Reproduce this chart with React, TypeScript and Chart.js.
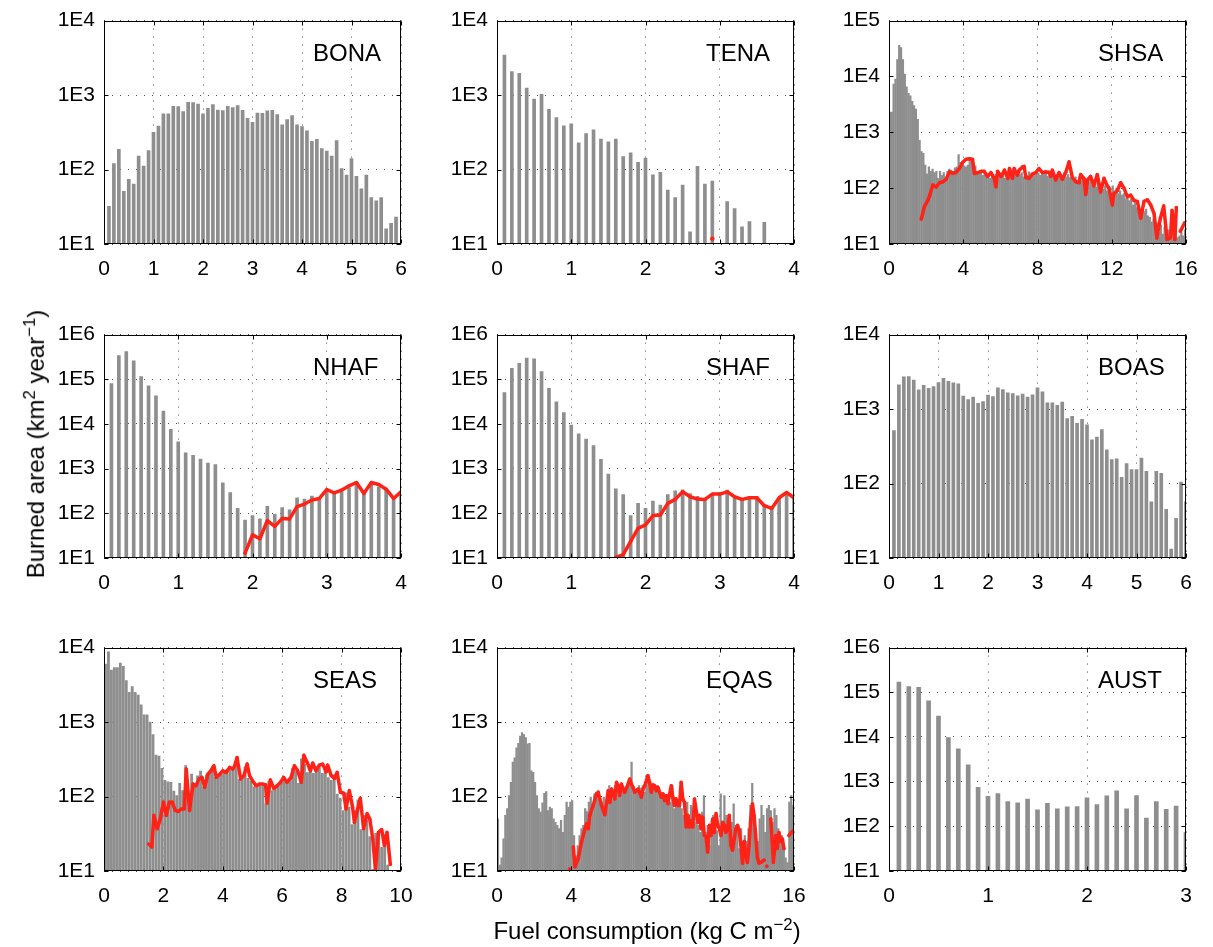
import React, { useEffect, useRef } from 'react';
import { Chart, registerables } from 'chart.js';

Chart.register(...registerables);

// ---------------- data ----------------
// Gray histogram values (km2/yr), bins of 0.1 kg C m-2
const BONA_AREA = [32, 120, 187, 51, 74, 64, 152, 111, 179, 315, 382, 558, 558, 706, 700, 600, 798, 790, 759, 558, 664, 743, 631, 618, 706, 678, 721, 625, 488, 432, 575, 568, 612, 625, 547, 398, 469, 530, 398, 378, 331, 239, 254, 191, 177, 152, 244, 103, 84, 140, 81, 55, 84, 42, 38, 42, 16, 19, 23];
const TENA_AREA = [3450, 2070, 1965, 1240, 885, 1020, 644, 499, 386, 411, 229, 305, 341, 256, 236, 256, 149, 167, 125, 143, 85, 92, 53, 42, 62, 14.6, 110, 64, 70, null, 37, 30, 17, 20, null, 19.5];
const SHSA_AREA = [
  2300, 2300, 7300, 9000, 20000, 36000, 33000, 20000, 11000, 6500,
  5000, 4500, 3600, 3000, 2600, 1700, 720, 450, 420, 260,
  180, 240, 200, 220, 190, 200, 150, 200, 170, 190,
  160, 200, 220, 210, 200, 230, 240, 400, 290, 260,
  250, 240, 260, 320, 330, 280, 250, 200, 180, 200,
  170, 190, 160, 180, 150, 170, 140, 175, 150, 170,
  160, 180, 150, 175, 165, 190, 155, 180, 170, 200,
  175, 190, 160, 185, 170, 195, 165, 180, 175, 190,
  185, 170, 195, 175, 180, 165, 190, 170, 185, 160,
  175, 165, 180, 170, 190, 160, 175, 155, 170, 150,
  160, 140, 165, 135, 150, 120, 145, 130, 140, 115,
  130, 105, 125, 100, 115, 95, 110, 90, 100, 80,
  110, 90, 100, 80, 90, 75, 80, 65, 70, 60,
  65, 50, 55, 45, 50, 40, 45, 38, 42, 32,
  30, 25, 28, 20, 24, 16, 22, 15, 20, 14,
  18, 13, 16, 12, 15, 13, 14, 16, 14, 18,
];
const NHAF_AREA = [80100, 341000, 419000, 260000, 114600, 71100, 42600, 19450, 7600, 3980, 2270, 1980, 1640, 1340, 1230, 480, 293, 129, 71, 89, 75, 143, 95, 134, 119, 223, 208, 243, 227, 341, 278, 303, 372, 506, 303, 464, 391, 330, 227, 303];
const SHAF_AREA = [50500, 175500, 227000, 298000, 288000, 148000, 63100, 31300, 17900, 9500, 6000, 4560, 3300, 1610, 760, 353, 264, 89, 167, 129, 188, 153, 264, 319, 336, 278, 239, 215, 278, 288, 330, 223, 208, 235, 235, 153, 129, 215, 288, 235];
const BOAS_AREA = [514, 2110, 2700, 2730, 2460, 1810, 2090, 1905, 2005, 2270, 2590, 2360, 2245, 2180, 1490, 1345, 1445, 1190, 1265, 1537, 1475, 1925, 1830, 1650, 1618, 1505, 1585, 1445, 1553, 1925, 1702, 1214, 1214, 1119, 1240, 743, 798, 644, 728, 612, 386, 419, 530, 284, 209, 215, 121, 185, 154, 154, 220, 146, 57, 146, 137, 45, 13.2, 34, 105, 57];
const SEAS_AREA = [
  6000, 8800, 5000, 5400, 5400, 6200, 5600, 3600, 2500, 3000,
  2500, 2300, 1700, 1250, 1250, 1000, 680, 360, 350, 240,
  165, 158, 155, 118, 103, 150, 120, 260, 90, 200,
  135, 190, 220, 135, 195, 205, 250, 180, 185, 200,
  205, 230, 240, 225, 300, 170, 185, 250, 175, 160,
  135, 140, 140, 138, 80, 160, 120, 130, 140, 150,
  170, 155, 175, 240, 220, 150, 320, 270, 210, 260,
  205, 245, 250, 205, 245, 180, 165, 195, 108, 95,
  65, 112, 72, 42, 65, 90, 36, 56, 48, 29,
  10.5, 32, 34, 21, 31, 12, null, null, null, null,
];
const EQAS_AREA = [
  50, 12, 15, 27, 56, 69, 103, 155, 290, 330,
  450, 520, 650, 720, 680, 620, 510, 520, 222, 211,
  155, 103, 69, 62, 82, 110, 117, 65, 72, 69,
  50, 45, 41, 37, 48, 33, 56, 84, 72, 84,
  88, 30, 16, 22, 30, 37, 41, 69, 63, 84,
  98, 80, 109, 114, 120, 98, 84, 98, 76, 103,
  140, 109, 126, 140, 147, 114, 140, 126, 120, 126,
  140, 163, 290, 126, 109, 126, 140, 130, 140, 114,
  140, 191, 140, 114, 147, 140, 140, 114, 103, 93,
  103, 84, 98, 84, 140, 69, 93, 80, 76, 69,
  56, 48, 84, 56, 76, 37, 45, 56, 41, 33,
  62, 103, 33, 41, 22, 37, 56, 50, 35, 22,
  109, 37, 103, 56, 37, 33, 45, 80, 41, 35,
  20, 37, 25, 30, 25, 37, 76, 151, 45, 37,
  25, 50, 76, 56, 33, 69, 76, 65, 45, 69,
  56, 37, 25, 30, 22, 15, 13, 84, 103, 76,
];
const AUST_AREA = [169800, 133700, 129100, 64200, 29300, 9670, 5410, 2385, 748, 472, 541, 359, 336, 405, 235, 325, 247, 274, 278, 434, 308, 480, 621, 247, 489, 153, 359, 239, 283, 72];

// Red model lines
const TENA_RED_X = [2.9];
const TENA_RED_Y = [11.8];
const SHSA_RED_X = [1.74, 1.91, 2.1, 2.2, 2.36, 2.54, 2.72, 2.9, 3.08, 3.26, 3.43, 3.6, 3.79, 3.97, 4.15, 4.33, 4.5, 4.6, 4.78, 4.96, 5.13, 5.31, 5.49, 5.67, 5.76, 5.85, 6.04, 6.22, 6.4, 6.49, 6.65, 6.74, 6.92, 7.01, 7.19, 7.28, 7.37, 7.55, 7.73, 7.91, 8.08, 8.26, 8.44, 8.62, 8.71, 8.8, 8.98, 9.16, 9.34, 9.52, 9.7, 9.88, 10.06, 10.24, 10.33, 10.5, 10.6, 10.69, 10.86, 11.04, 11.22, 11.4, 11.58, 11.76, 11.85, 12.03, 12.12, 12.3, 12.48, 12.66, 12.84, 13.02, 13.2, 13.38, 13.56, 13.74, 13.92, 14.1, 14.28, 14.43, 14.62, 14.8, 14.98, 15.16, 15.25, 15.4, 15.48, 15.6, 15.7, 15.93];
const SHSA_RED_Y = [28, 47, 61, 75, 114, 105, 125, 130, 145, 196, 185, 190, 224, 290, 329, 335, 329, 183, 190, 200, 200, 162, 190, 150, 106, 200, 162, 210, 150, 225, 150, 225, 170, 210, 240, 245, 155, 150, 180, 190, 225, 190, 195, 192, 162, 210, 140, 190, 145, 190, 295, 155, 130, 125, 175, 150, 77, 140, 162, 110, 175, 85, 150, 110, 100, 50, 80, 90, 125, 100, 70, 75, 60, 58, 29, 58, 62, 50, 35, 12.8, 29, 48, 12, 13, 40, 12, 45, null, 17, 24];
const NHAF_RED_X = [1.9, 2.0, 2.1, 2.2, 2.3, 2.4, 2.5, 2.6, 2.7, 2.8, 2.9, 3.0, 3.1, 3.2, 3.3, 3.4, 3.5, 3.6, 3.7, 3.8, 3.9, 4.0];
const NHAF_RED_Y = [12.9, 33, 27, 69, 51, 77, 75, 141, 161, 198, 215, 341, 288, 330, 412, 489, 278, 489, 441, 347, 215, 303];
const SHAF_RED_X = [1.6, 1.7, 1.8, 1.9, 2.0, 2.1, 2.2, 2.3, 2.4, 2.5, 2.6, 2.7, 2.8, 2.9, 3.0, 3.1, 3.2, 3.3, 3.4, 3.5, 3.6, 3.7, 3.8, 3.9, 4.0];
const SHAF_RED_Y = [10.3, 11.9, 23.5, 46, 55, 89, 92, 167, 205, 303, 235, 208, 205, 269, 269, 303, 235, 205, 223, 223, 148, 129, 223, 293, 223];
const SEAS_RED_X = [1.51, 1.61, 1.68, 1.79, 1.89, 2.0, 2.1, 2.2, 2.3, 2.4, 2.5, 2.6, 2.7, 2.77, 2.88, 3.0, 3.1, 3.2, 3.3, 3.39, 3.5, 3.6, 3.7, 3.78, 3.9, 4.0, 4.11, 4.23, 4.34, 4.4, 4.48, 4.6, 4.71, 4.82, 4.9, 5.0, 5.12, 5.24, 5.35, 5.44, 5.49, 5.6, 5.72, 5.83, 5.94, 6.05, 6.16, 6.3, 6.41, 6.52, 6.64, 6.73, 6.84, 6.95, 7.03, 7.14, 7.25, 7.36, 7.48, 7.53, 7.65, 7.76, 7.85, 7.96, 8.07, 8.15, 8.26, 8.37, 8.43, 8.54, 8.63, 8.74, 8.86, 8.95, 9.05, 9.14, 9.24, 9.35, 9.44, 9.53, 9.64];
const SEAS_RED_Y = [23, 21, 56, 37, 49, 84, 56, 84, 84, 65, 63, 68, 68, 234, 65, 147, 140, 172, 181, 133, 200, 222, 259, 181, 200, 222, 211, 246, 234, 259, 334, 172, 191, 273, 191, 163, 140, 147, 147, 144, 82, 167, 128, 140, 155, 181, 155, 181, 259, 222, 155, 359, 287, 222, 281, 222, 264, 273, 215, 264, 191, 175, 211, 114, 111, 68, 120, 72, 45, 68, 95, 37, 59, 50, 27, 10.3, 33, 36, 22, 33, 12.3];
const EQAS_RED_X = [3.9, 4.0, 4.11, 4.2, 4.38, 4.56, 4.74, 4.83, 4.92, 5.0, 5.18, 5.36, 5.45, 5.63, 5.81, 5.99, 6.08, 6.17, 6.35, 6.44, 6.52, 6.61, 6.7, 6.88, 7.06, 7.15, 7.24, 7.33, 7.42, 7.6, 7.78, 7.87, 7.96, 8.13, 8.22, 8.31, 8.4, 8.49, 8.58, 8.67, 8.76, 8.85, 8.94, 9.03, 9.12, 9.21, 9.3, 9.39, 9.47, 9.56, 9.65, 9.74, 9.83, 9.92, 10.01, 10.1, 10.19, 10.28, 10.37, 10.46, 10.55, 10.64, 10.73, 10.82, 10.9, 10.99, 11.08, 11.17, 11.26, 11.35, 11.44, 11.53, 11.62, 11.71, 11.8, 11.89, 11.98, 12.07, 12.16, 12.25, 12.33, 12.42, 12.51, 12.6, 12.69, 12.78, 12.87, 12.96, 13.05, 13.14, 13.23, 13.32, 13.41, 13.49, 13.58, 13.67, 13.76, 13.85, 14.03, 14.12, 14.21, 14.39, 14.46, 14.53, 14.62, 14.75, 14.89, 15.02, 15.1, 15.19, 15.28, 15.37, 15.46, 15.6, 15.73, 15.86, 15.96];
const EQAS_RED_Y = [10.6, null, 21, 11.4, 14.8, 25, 37, 43, 37, 56, 76, 109, 114, 76, 57, 120, 84, 126, 93, 155, 140, 103, 147, 114, 147, 172, 147, 133, 114, 126, 98, 126, 140, 191, 155, 114, 143, 140, 120, 133, 114, 98, 109, 88, 103, 80, 109, 140, 98, 76, 93, 76, 76, 155, 93, 84, 39, 56, 39, 47, 39, 93, 65, 45, 56, 37, 53, 30, 29, 18, 41, 30, 50, 33, 59, 41, 37, 30, 45, 41, 33, 37, 56, 22, 19, 27, 37, 41, 35, 22, 12.7, 25, 16, 13, 22, 50, 80, 56, 15, 12.7, 13, 14, null, 11.6, null, 50, 13, 30, 20, 33, 25, 27, 20, null, 30, 33, 35];

// ---------------- layout & style ----------------
const FONT = '"Liberation Sans", Arial, Helvetica, sans-serif';
const GRAY = '#8e8e8e';
const RED = '#ff2217';
const COLS = [104, 497, 889];
const ROWS = [19, 333, 646];
const PW = 297;
const PH = 225;
const PAD_L = 70;
const PAD_T = 20;
const PAD_R = 25;
const PAD_B = 50;

const bins = (start: number, step: number, n: number) =>
  Array.from({ length: n }, (_, i) => Math.round((start + i * step) * 1000) / 1000);

type PanelDef = {
  title: string;
  xs: number[];
  ys: (number | null)[];
  redX?: number[];
  redY?: (number | null)[];
  redPoint?: number;
  xMax: number;
  xStep: number;
  yTopExp: number;
  barW: number;
  col: number;
  row: number;
};

const PANELS: PanelDef[] = [
  { title: 'BONA', xs: bins(0.1, 0.1, BONA_AREA.length), ys: BONA_AREA, xMax: 6, xStep: 1, yTopExp: 4, barW: 3, col: 0, row: 0 },
  { title: 'TENA', xs: bins(0.1, 0.1, TENA_AREA.length), ys: TENA_AREA, redX: TENA_RED_X, redY: TENA_RED_Y, redPoint: 2.2, xMax: 4, xStep: 1, yTopExp: 4, barW: 3, col: 1, row: 0 },
  { title: 'SHSA', xs: bins(0.05, 0.1, SHSA_AREA.length), ys: SHSA_AREA, redX: SHSA_RED_X, redY: SHSA_RED_Y, xMax: 16, xStep: 4, yTopExp: 5, barW: 1.6, col: 2, row: 0 },
  { title: 'NHAF', xs: bins(0.1, 0.1, NHAF_AREA.length), ys: NHAF_AREA, redX: NHAF_RED_X, redY: NHAF_RED_Y, xMax: 4, xStep: 1, yTopExp: 6, barW: 3, col: 0, row: 1 },
  { title: 'SHAF', xs: bins(0.1, 0.1, SHAF_AREA.length), ys: SHAF_AREA, redX: SHAF_RED_X, redY: SHAF_RED_Y, xMax: 4, xStep: 1, yTopExp: 6, barW: 3, col: 1, row: 1 },
  { title: 'BOAS', xs: bins(0.1, 0.1, BOAS_AREA.length), ys: BOAS_AREA, xMax: 6, xStep: 1, yTopExp: 4, barW: 3, col: 2, row: 1 },
  { title: 'SEAS', xs: bins(0.05, 0.1, SEAS_AREA.length), ys: SEAS_AREA, redX: SEAS_RED_X, redY: SEAS_RED_Y, xMax: 10, xStep: 2, yTopExp: 4, barW: 2.2, col: 0, row: 2 },
  { title: 'EQAS', xs: bins(0.05, 0.1, EQAS_AREA.length), ys: EQAS_AREA, redX: EQAS_RED_X, redY: EQAS_RED_Y, xMax: 16, xStep: 4, yTopExp: 4, barW: 1.6, col: 1, row: 2 },
  { title: 'AUST', xs: bins(0.1, 0.1, AUST_AREA.length), ys: AUST_AREA, xMax: 3, xStep: 1, yTopExp: 6, barW: 4, col: 2, row: 2 },
];

const framePlugin = (title: string) => ({
  id: 'frame' + title,
  afterDraw(chart: any) {
    const { ctx, chartArea: a, scales } = chart;
    const l = Math.round(a.left) + 0.5;
    const r = Math.round(a.right) - 0.5;
    const t = Math.round(a.top) + 0.5;
    const b = Math.round(a.bottom) - 0.5;
    ctx.save();
    ctx.strokeStyle = '#000';
    ctx.lineWidth = 1;
    ctx.setLineDash([]);
    ctx.strokeRect(l, t, r - l, b - t);
    const TL = 4;
    ctx.beginPath();
    for (const tk of scales.x.ticks) {
      const px = Math.round(scales.x.getPixelForValue(tk.value)) + 0.5;
      ctx.moveTo(px, b); ctx.lineTo(px, b - TL);
      ctx.moveTo(px, t); ctx.lineTo(px, t + TL);
    }
    for (const tk of scales.y.ticks) {
      const py = Math.round(scales.y.getPixelForValue(tk.value)) + 0.5;
      ctx.moveTo(l, py); ctx.lineTo(l + TL, py);
      ctx.moveTo(r, py); ctx.lineTo(r - TL, py);
    }
    ctx.stroke();
    ctx.fillStyle = '#000';
    ctx.font = `24px ${FONT}`;
    ctx.textBaseline = 'alphabetic';
    ctx.textAlign = 'left';
    ctx.fillText(title, a.left + 209, a.top + 40);
    ctx.restore();
  },
});

function Panel({ p }: { p: PanelDef }) {
  const ref = useRef<HTMLCanvasElement>(null);
  const cw = PW + PAD_L + PAD_R;
  const ch = PH + PAD_T + PAD_B;
  useEffect(() => {
    if (!ref.current) return;
    const datasets: any[] = [];
    if (p.redX && p.redY) {
      datasets.push({
        type: 'line',
        data: p.redX.map((x, i) => ({ x, y: p.redY![i] })),
        borderColor: RED,
        borderWidth: 3.5,
        pointRadius: p.redPoint ?? 1.6,
        pointBackgroundColor: RED,
        pointBorderWidth: 0,
        spanGaps: false,
        tension: 0,
        borderJoinStyle: 'round',
        borderCapStyle: 'round',
        order: 0,
      });
    }
    datasets.push({
      type: 'bar',
      data: p.xs.map((x, i) => ({ x, y: p.ys[i] })),
      backgroundColor: GRAY,
      borderWidth: 0,
      barThickness: p.barW,
      grouped: false,
      order: 1,
    });
    const xTicks: number[] = [];
    for (let v = 0; v <= p.xMax + 1e-9; v += p.xStep) xTicks.push(v);
    const yTicks: number[] = [];
    for (let e = 1; e <= p.yTopExp; e++) yTicks.push(Math.pow(10, e));
    const tickFont = { family: FONT, size: 21 };
    const gridStyle = { color: 'rgba(0,0,0,0.7)', lineWidth: 1, drawTicks: false, offset: false };
    const chart = new Chart(ref.current, {
      type: 'bar',
      data: { datasets },
      options: {
        animation: false,
        responsive: false,
        devicePixelRatio: 1,
        events: [],
        layout: { padding: { left: 0, top: PAD_T, right: PAD_R, bottom: 0 } },
        plugins: { legend: { display: false }, tooltip: { enabled: false } },
        scales: {
          x: {
            type: 'linear',
            min: 0,
            max: p.xMax,
            offset: false,
            grid: gridStyle,
            border: { display: false, dash: [1, 7] },
            afterBuildTicks: (ax: any) => { ax.ticks = xTicks.map((v) => ({ value: v })); },
            afterFit: (ax: any) => { ax.height = PAD_B; },
            ticks: { font: tickFont, color: '#000', padding: 13, maxRotation: 0, autoSkip: false, callback: (v: any) => String(v) },
          },
          y: {
            type: 'logarithmic',
            min: 10,
            max: Math.pow(10, p.yTopExp),
            grid: gridStyle,
            border: { display: false, dash: [1, 7] },
            afterBuildTicks: (ax: any) => { ax.ticks = yTicks.map((v) => ({ value: v })); },
            afterFit: (ax: any) => { ax.width = PAD_L; },
            ticks: { font: tickFont, color: '#000', padding: 9, autoSkip: false, callback: (v: any) => '1E' + Math.round(Math.log10(Number(v))) },
          },
        },
      } as any,
      plugins: [framePlugin(p.title)],
    });
    return () => chart.destroy();
  }, [p]);
  return (
    <canvas
      ref={ref}
      width={cw}
      height={ch}
      style={{ position: 'absolute', left: COLS[p.col] - PAD_L, top: ROWS[p.row] - PAD_T, width: cw, height: ch }}
    />
  );
}

export default function App() {
  return (
    <div style={{ position: 'absolute', left: 0, top: 0, width: 1213, height: 947, background: '#fff', fontFamily: FONT, overflow: 'hidden' }}>
      {PANELS.map((p) => (
        <Panel key={p.title} p={p} />
      ))}
      <div
        style={{
          position: 'absolute', left: 35, top: 444, transform: 'translate(-50%, -50%) rotate(-90deg)',
          whiteSpace: 'nowrap', fontSize: 24, color: '#000', lineHeight: 1,
        }}
      >
        Burned area (km<sup style={{ fontSize: '0.7em', verticalAlign: '0.55em' }}>2</sup> year<sup style={{ fontSize: '0.7em', verticalAlign: '0.55em' }}>−1</sup>)
      </div>
      <div
        style={{
          position: 'absolute', left: 647, top: 930, transform: 'translate(-50%, -50%)',
          whiteSpace: 'nowrap', fontSize: 24, color: '#000', lineHeight: 1,
        }}
      >
        Fuel consumption (kg C m<sup style={{ fontSize: '0.7em', verticalAlign: '0.55em' }}>−2</sup>)
      </div>
    </div>
  );
}
